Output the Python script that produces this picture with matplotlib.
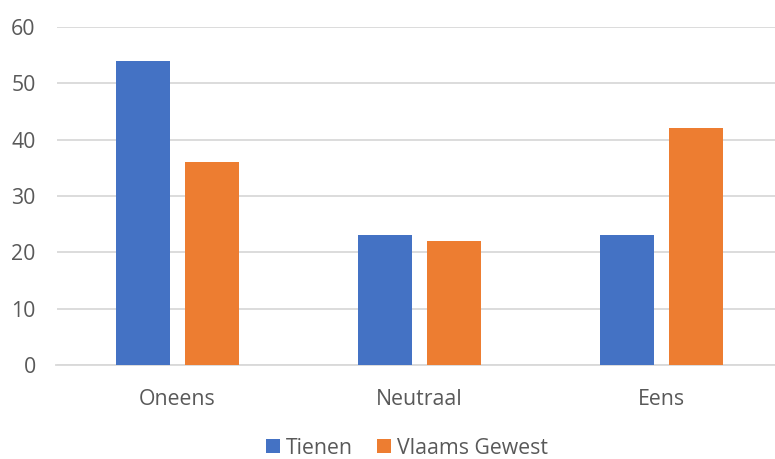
import matplotlib
matplotlib.use("Agg")
import matplotlib.pyplot as plt
import numpy as np

categories = ["Oneens", "Neutraal", "Eens"]
tienen = [54, 23, 23]
vlaams = [36, 22, 42]
series_names = ["Tienen", "Vlaams Gewest"]

plt.rcParams["font.family"] = ["Open Sans", "DejaVu Sans"]
txt = "#595959"

fig = plt.figure(figsize=(7.75, 4.59), dpi=100)
ax = fig.add_axes([56.5/775, 1-365/459, 726/775, 338/459])

x = np.arange(len(categories))
w = 0.223
off = 0.1426
ax.bar(x - off, tienen, w, color="#4472C4", label=series_names[0], zorder=3)
ax.bar(x + off, vlaams, w, color="#ED7D31", label=series_names[1], zorder=3)

ax.set_xlim(-0.5, 2.5)
ax.set_ylim(0, 60)
ax.set_yticks(range(0, 61, 10))
ax.yaxis.grid(True, color="#D9D9D9", linewidth=1.3, zorder=0)
ax.set_xticks(x)
ax.set_xticklabels(categories)
for s in ["top", "right", "left"]:
    ax.spines[s].set_visible(False)
ax.spines["bottom"].set_color("#D9D9D9")
ax.spines["bottom"].set_linewidth(1.3)
ax.tick_params(axis="both", length=0, labelsize=15.3, labelcolor=txt)
ax.tick_params(axis="y", pad=15)
ax.tick_params(axis="x", pad=17)

ax.legend(loc="center", bbox_to_anchor=(407/775, 1-448/459), bbox_transform=fig.transFigure,
          ncol=2, frameon=False, fontsize=15.3, labelcolor=txt, borderpad=0.2,
          handlelength=0.65, handleheight=0.65, handletextpad=0.3, columnspacing=1.1)

fig.savefig("out.png", dpi=100)
